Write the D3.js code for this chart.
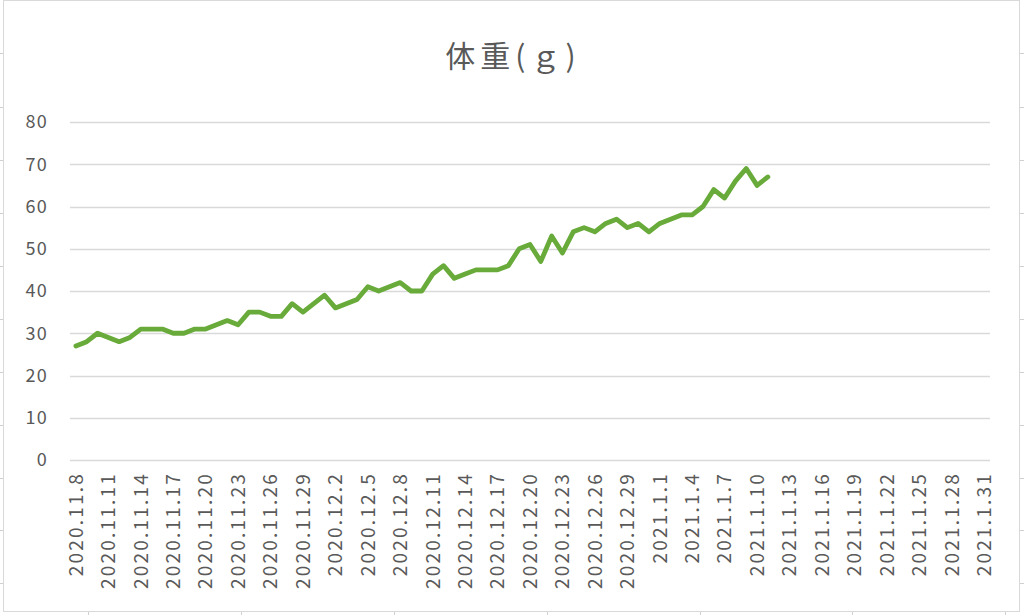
<!DOCTYPE html>
<html><head><meta charset="utf-8">
<script src="https://cdn.jsdelivr.net/npm/d3@7"></script>
<style>html,body{margin:0;padding:0;background:#fff;}svg{display:block;}</style>
</head><body>
<svg id="c" width="1024" height="615"></svg>
<script>
const title = "体重(ｇ)";
const dates = [
"2020.11.8","2020.11.9","2020.11.10","2020.11.11","2020.11.12","2020.11.13","2020.11.14","2020.11.15","2020.11.16","2020.11.17",
"2020.11.18","2020.11.19","2020.11.20","2020.11.21","2020.11.22","2020.11.23","2020.11.24","2020.11.25","2020.11.26","2020.11.27",
"2020.11.28","2020.11.29","2020.11.30","2020.12.1","2020.12.2","2020.12.3","2020.12.4","2020.12.5","2020.12.6","2020.12.7",
"2020.12.8","2020.12.9","2020.12.10","2020.12.11","2020.12.12","2020.12.13","2020.12.14","2020.12.15","2020.12.16","2020.12.17",
"2020.12.18","2020.12.19","2020.12.20","2020.12.21","2020.12.22","2020.12.23","2020.12.24","2020.12.25","2020.12.26","2020.12.27",
"2020.12.28","2020.12.29","2020.12.30","2020.12.31","2021.1.1","2021.1.2","2021.1.3","2021.1.4","2021.1.5","2021.1.6",
"2021.1.7","2021.1.8","2021.1.9","2021.1.10","2021.1.11","2021.1.12","2021.1.13","2021.1.14","2021.1.15","2021.1.16",
"2021.1.17","2021.1.18","2021.1.19","2021.1.20","2021.1.21","2021.1.22","2021.1.23","2021.1.24","2021.1.25","2021.1.26",
"2021.1.27","2021.1.28","2021.1.29","2021.1.30","2021.1.31"];
const weights = [
27,28,30,29,28,29,31,31,31,30,
30,31,31,32,33,32,35,35,34,34,
37,35,37,39,36,37,38,41,40,41,
42,40,40,44,46,43,44,45,45,45,
46,50,51,47,53,49,54,55,54,56,
57,55,56,54,56,57,58,58,60,64,
62,66,69,65,67];
const yTicks = [0,10,20,30,40,50,60,70,80];
const tickEvery = 3;

const svg = d3.select("#c");
const font = "'Noto Sans CJK JP','Noto Sans',sans-serif";
const txtColor = "#595959";

// outer chart border
svg.append("rect").attr("x",3.5).attr("y",0.5).attr("width",1016).attr("height",611)
  .attr("fill","none").attr("stroke","#d9d9d9").attr("stroke-width",1);
// spreadsheet row/column marks outside border
const rowMarks = [53,107,160,213,266,319,372,425,478,530,583];
const colMarks = [88,241,394,547,700,852,1005];
svg.append("g").selectAll("line").data(rowMarks).join("line")
  .attr("x1",0).attr("x2",3).attr("y1",d=>d+0.5).attr("y2",d=>d+0.5).attr("stroke","#d0d0d0");
svg.append("g").selectAll("line").data(rowMarks).join("line")
  .attr("x1",1020).attr("x2",1024).attr("y1",d=>d+0.5).attr("y2",d=>d+0.5).attr("stroke","#d0d0d0");
svg.append("g").selectAll("line").data(colMarks).join("line")
  .attr("x1",d=>d+0.5).attr("x2",d=>d+0.5).attr("y1",612).attr("y2",615).attr("stroke","#d0d0d0");

const x = d3.scaleBand().domain(dates).range([70.5, 989.5]).padding(0);
const y = d3.scaleLinear().domain([0,80]).range([460,122]);
const cx = d => x(d) + x.bandwidth()/2;

// gridlines
svg.append("g").selectAll("line").data(yTicks).join("line")
  .attr("x1",70).attr("x2",990)
  .attr("y1",d=>Math.round(y(d))+0.5).attr("y2",d=>Math.round(y(d))+0.5)
  .attr("stroke","#d9d9d9").attr("stroke-width",1.3);

// y labels
svg.append("g").selectAll("text").data(yTicks).join("text")
  .attr("x",48).attr("y",d=>y(d)).attr("dy","0.36em")
  .attr("text-anchor","end").attr("font-family",font).attr("font-size",18).attr("letter-spacing",1.2)
  .attr("fill",txtColor).text(d=>d);

// x labels
const xl = dates.filter((d,i)=>i % tickEvery === 0);
svg.append("g").selectAll("text").data(xl).join("text")
  .attr("transform",d=>`translate(${cx(d)},472) rotate(-90)`)
  .attr("dy","0.36em").attr("text-anchor","end")
  .attr("font-family",font).attr("font-size",19).attr("letter-spacing",2.2)
  .attr("fill",txtColor).text(d=>d);

// line
const line = d3.line().x((d,i)=>cx(dates[i])).y(d=>y(d));
svg.append("path").datum(weights).attr("d",line)
  .attr("fill","none").attr("stroke","#68ab3a").attr("stroke-width",4.8)
  .attr("stroke-linejoin","round").attr("stroke-linecap","round");

// title
svg.append("text").attr("x",513).attr("y",67).attr("text-anchor","middle")
  .attr("font-family",font).attr("font-size",30).attr("letter-spacing",5)
  .attr("fill",txtColor).text(title);
</script>
</body></html>
